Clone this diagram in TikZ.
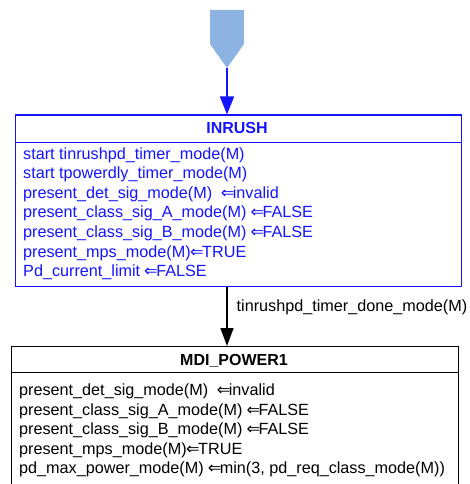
\documentclass[tikz,border=0pt]{standalone}
\usepackage{fontspec}
\setmainfont{Liberation Sans}
\newfontfamily\arrfont{DejaVu Sans}
\usetikzlibrary{arrows.meta}
\definecolor{stblue}{RGB}{20,20,255}
\definecolor{initfill}{RGB}{141,179,226}
\newcommand{\larr}{{\arrfont\kern-0.5pt ⇐}\kern-1.5pt}
\tikzset{
  txt/.style={anchor=base west, inner sep=0pt, font=\fontsize{16.2}{19}\selectfont},
  ttl/.style={anchor=base, inner sep=0pt, font=\fontsize{16}{19}\selectfont\bfseries},
}
\begin{document}
\begin{tikzpicture}[x=1pt,y=-1pt]
\useasboundingbox (0,0) rectangle (470,484);
\clip (0,0) rectangle (470,484);
% initial pseudo-state
\fill[initfill] (210,10) -- (244,10) -- (244,44) -- (227,68) -- (210,44) -- cycle;
\coordinate (init) at (227,68);
% INRUSH box
\node[draw=stblue, line width=1.6pt, minimum width=446pt, minimum height=171pt, anchor=north west, inner sep=0pt] (inrush) at (14.5,114.5) {};
\draw[stblue, line width=1.6pt] ([yshift=-28pt]inrush.north west) -- ([yshift=-28pt]inrush.north east);
\node[ttl, text=stblue] (inrushT) at (237,133) {INRUSH};
\begin{scope}[every node/.append style={txt, text=stblue}]
\node (i1) at (23,159) {start tinrushpd\_timer\_mode(M)};
\node (i2) at (23,178.6) {start tpowerdly\_timer\_mode(M)};
\node (i3) at (23,198.2) {present\_det\_sig\_mode(M)\ \ \larr invalid};
\node (i4) at (23,217.8) {present\_class\_sig\_A\_mode(M) \larr FALSE};
\node (i5) at (23,237.4) {present\_class\_sig\_B\_mode(M) \larr FALSE};
\node (i6) at (23,257) {present\_mps\_mode(M)\larr TRUE};
\node (i7) at (23,276.6) {Pd\_current\_limit \larr FALSE};
\end{scope}
% MDI_POWER1 box
\node[draw=black, line width=0.9pt, minimum width=447pt, minimum height=160pt, anchor=north west, inner sep=0pt] (mdi) at (11,346) {};
\draw[black, line width=0.9pt] ([yshift=-26pt]mdi.north west) -- ([yshift=-26pt]mdi.north east);
\node[ttl, text=black] (mdiT) at (234,365) {MDI\_POWER1};
\begin{scope}[every node/.append style={txt, text=black}]
\node (m1) at (19,395.5) {present\_det\_sig\_mode(M)\ \ \larr invalid};
\node (m2) at (19,415) {present\_class\_sig\_A\_mode(M) \larr FALSE};
\node (m3) at (19,434.5) {present\_class\_sig\_B\_mode(M) \larr FALSE};
\node (m4) at (19,454) {present\_mps\_mode(M)\larr TRUE};
\node (m5) at (19,473.5) {pd\_max\_power\_mode(M) \larr min(3, pd\_req\_class\_mode(M))};
\end{scope}
% connectors
\draw[stblue, line width=1.6pt, -{Triangle[width=14pt,length=18pt]}] (init) -- (init |- inrush.north);
\draw[black, line width=1.4pt, -{Triangle[width=13pt,length=18pt]}] (init |- inrush.south) -- (init |- mdi.north)
  node[pos=0.35, right=9pt, txt, anchor=west, text=black] (lbl) {tinrushpd\_timer\_done\_mode(M)};
\end{tikzpicture}
\end{document}
